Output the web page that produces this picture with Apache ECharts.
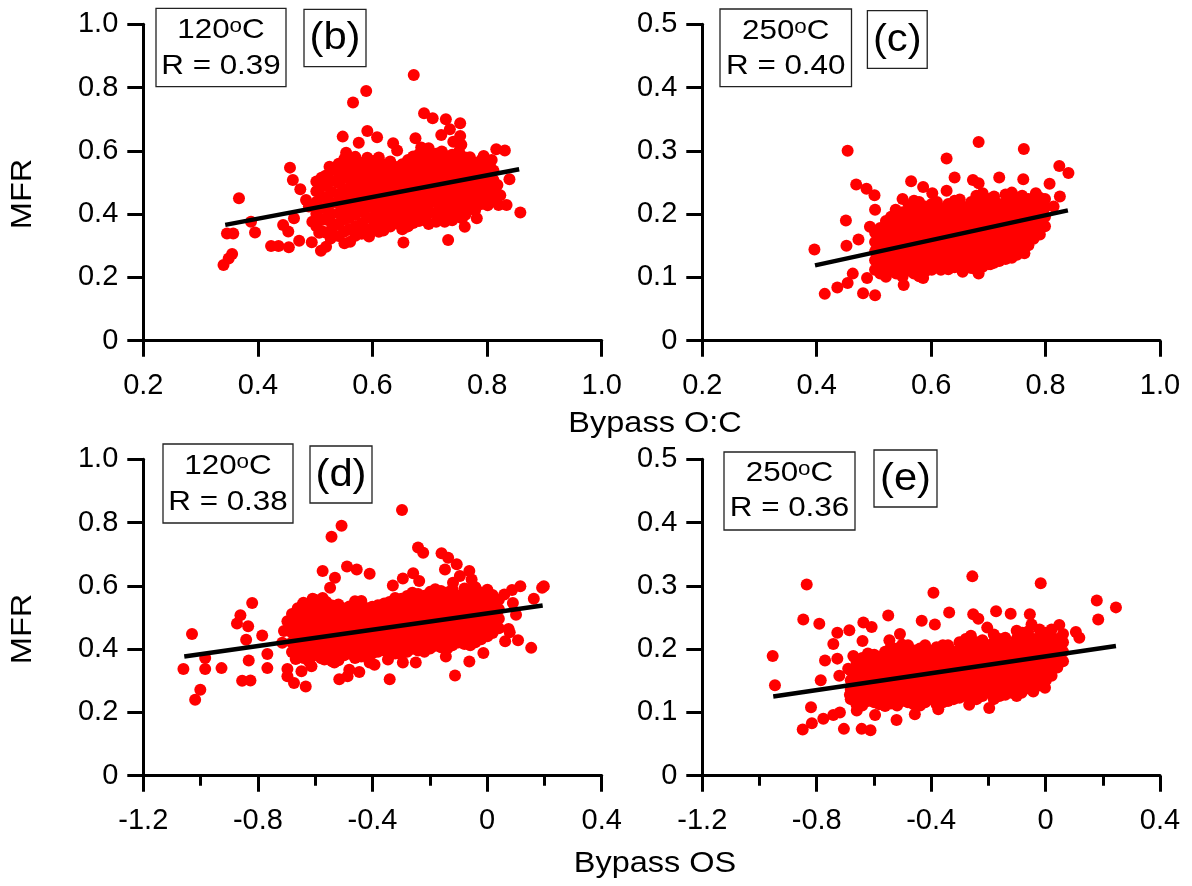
<!DOCTYPE html>
<html>
<head>
<meta charset="utf-8">
<script src="https://cdn.jsdelivr.net/npm/echarts@6.0.0/dist/echarts.min.js"></script>
<style>
html,body{margin:0;padding:0;background:#fff;}
#chart{width:1192px;height:886px;}
</style>
</head>
<body>
<div id="chart"></div>
<script>
// ---------- DATA ----------
// Panel (b): Bypass O:C vs MFR at 120ºC  -- scattered points [x, y]
const pointsB = [
[0.672,0.840],[0.589,0.789],[0.566,0.753],[0.690,0.719],[0.705,0.703],[0.728,0.700],[0.753,0.687],[0.735,0.668],[0.720,0.650],[0.753,0.647],[0.741,0.629],[0.755,0.619],[0.548,0.645],[0.591,0.663],[0.608,0.643],[0.576,0.626],[0.636,0.624],[0.643,0.601],[0.675,0.640],[0.685,0.611],[0.554,0.594],[0.816,0.605],[0.831,0.601],[0.794,0.584],[0.808,0.571],[0.770,0.580],[0.805,0.550],[0.456,0.547],[0.461,0.508],[0.474,0.479],[0.525,0.550],[0.367,0.450],[0.839,0.510],[0.818,0.492],[0.823,0.460],[0.820,0.429],[0.834,0.429],[0.858,0.405],[0.788,0.450],[0.782,0.387],[0.761,0.360],[0.732,0.318],[0.726,0.376],[0.756,0.387],[0.654,0.310],[0.659,0.360],[0.639,0.371],[0.627,0.400],[0.600,0.350],[0.594,0.329],[0.561,0.313],[0.551,0.308],[0.574,0.355],[0.527,0.323],[0.519,0.297],[0.510,0.284],[0.507,0.341],[0.494,0.311],[0.495,0.376],[0.472,0.316],[0.454,0.295],[0.436,0.299],[0.423,0.299],[0.453,0.345],[0.444,0.366],[0.463,0.387],[0.395,0.342],[0.388,0.376],[0.357,0.339],[0.346,0.339],[0.355,0.274],[0.349,0.260],[0.340,0.239],[0.484,0.445],[0.489,0.424]
];
// Panel (b) dense core, column by column: [x, [y values]]
const coreB = [
[0.502,[0.362,0.401,0.438,0.472,0.503]],
[0.511,[0.347,0.382,0.419,0.455,0.487,0.515]],
[0.518,[0.342,0.383,0.418,0.452,0.489,0.521]],
[0.529,[0.336,0.352,0.371,0.401,0.436,0.470,0.505,0.539]],
[0.541,[0.331,0.368,0.402,0.433,0.462,0.498,0.531,0.559]],
[0.551,[0.345,0.384,0.418,0.447,0.479,0.514,0.548,0.575]],
[0.559,[0.352,0.388,0.421,0.449,0.481,0.512,0.543,0.571]],
[0.570,[0.332,0.361,0.397,0.431,0.462,0.492,0.523,0.552,0.581]],
[0.581,[0.338,0.372,0.409,0.441,0.468,0.502,0.533,0.562]],
[0.591,[0.352,0.388,0.421,0.455,0.486,0.517,0.547,0.578]],
[0.602,[0.361,0.392,0.424,0.452,0.483,0.511,0.539,0.568]],
[0.611,[0.344,0.376,0.407,0.437,0.468,0.496,0.524,0.553,0.579]],
[0.619,[0.348,0.381,0.413,0.442,0.471,0.503,0.529,0.558]],
[0.631,[0.361,0.392,0.428,0.458,0.487,0.516,0.541,0.566]],
[0.641,[0.372,0.401,0.428,0.462,0.491,0.522,0.549]],
[0.652,[0.352,0.381,0.411,0.439,0.471,0.498,0.529,0.558]],
[0.662,[0.362,0.393,0.421,0.452,0.483,0.511,0.542,0.571]],
[0.671,[0.372,0.402,0.432,0.462,0.495,0.525,0.556,0.582]],
[0.681,[0.378,0.409,0.441,0.469,0.498,0.532,0.561,0.589]],
[0.690,[0.385,0.418,0.451,0.481,0.512,0.545,0.572,0.598]],
[0.698,[0.369,0.402,0.431,0.461,0.492,0.519,0.551,0.579,0.608]],
[0.711,[0.376,0.405,0.438,0.468,0.501,0.531,0.563,0.591]],
[0.721,[0.388,0.418,0.452,0.479,0.511,0.542,0.571,0.598]],
[0.729,[0.396,0.428,0.461,0.492,0.522,0.552,0.583]],
[0.739,[0.381,0.411,0.439,0.472,0.502,0.529,0.561,0.588]],
[0.751,[0.392,0.421,0.451,0.481,0.511,0.542,0.571,0.598]],
[0.762,[0.398,0.431,0.459,0.491,0.521,0.548,0.579]],
[0.771,[0.419,0.447,0.478,0.511,0.541,0.569]],
[0.779,[0.412,0.441,0.472,0.501,0.529,0.562]],
[0.790,[0.432,0.458,0.487,0.516,0.543,0.571]],
[0.801,[0.428,0.461,0.489,0.521,0.552]],
[0.811,[0.448,0.476,0.508,0.538]]
];
const fitB = [[0.343,0.366],[0.856,0.542]];

// Panel (c): Bypass O:C vs MFR at 250ºC
const pointsC = [
[0.683,0.314],[0.454,0.300],[0.762,0.303],[0.627,0.288],[0.824,0.276],[0.840,0.265],[0.469,0.247],[0.487,0.240],[0.501,0.230],[0.565,0.252],[0.641,0.258],[0.673,0.254],[0.683,0.249],[0.719,0.258],[0.761,0.255],[0.807,0.248],[0.825,0.228],[0.783,0.233],[0.502,0.207],[0.451,0.190],[0.493,0.180],[0.452,0.150],[0.473,0.160],[0.396,0.144],[0.463,0.106],[0.454,0.091],[0.436,0.084],[0.414,0.074],[0.481,0.075],[0.502,0.072],[0.488,0.099],[0.552,0.088],[0.586,0.099],[0.617,0.112],[0.655,0.109],[0.683,0.106],[0.704,0.121],[0.763,0.138],[0.771,0.170],[0.792,0.180],[0.814,0.212],[0.550,0.224],[0.586,0.243],[0.602,0.233],[0.627,0.237],[0.538,0.207],[0.523,0.175]
];
const coreC = [
[0.502,[0.112,0.127,0.141,0.156,0.171]],
[0.511,[0.106,0.120,0.134,0.149,0.163,0.178]],
[0.521,[0.101,0.116,0.132,0.146,0.161,0.176,0.189]],
[0.530,[0.111,0.125,0.140,0.154,0.169,0.183,0.196]],
[0.539,[0.106,0.121,0.136,0.151,0.166,0.181,0.196]],
[0.550,[0.101,0.114,0.129,0.143,0.158,0.173,0.188,0.203]],
[0.561,[0.111,0.126,0.141,0.156,0.171,0.186,0.201,0.214]],
[0.570,[0.106,0.119,0.134,0.149,0.164,0.179,0.194,0.208,0.221]],
[0.579,[0.102,0.117,0.131,0.146,0.161,0.176,0.191,0.206,0.219]],
[0.590,[0.110,0.124,0.139,0.154,0.169,0.184,0.198,0.212]],
[0.601,[0.112,0.126,0.141,0.157,0.171,0.186,0.201,0.216]],
[0.610,[0.117,0.131,0.146,0.161,0.176,0.191,0.205,0.219]],
[0.619,[0.121,0.136,0.151,0.166,0.181,0.196,0.209]],
[0.630,[0.113,0.128,0.143,0.158,0.173,0.188,0.203,0.216]],
[0.641,[0.116,0.131,0.146,0.161,0.176,0.191,0.206,0.221]],
[0.650,[0.118,0.133,0.148,0.163,0.178,0.193,0.208,0.223]],
[0.661,[0.121,0.136,0.151,0.166,0.181,0.196,0.211]],
[0.670,[0.115,0.129,0.144,0.159,0.174,0.189,0.204,0.219]],
[0.679,[0.112,0.126,0.141,0.156,0.171,0.186,0.201,0.216,0.229]],
[0.690,[0.117,0.131,0.146,0.161,0.176,0.191,0.206,0.221,0.233]],
[0.701,[0.121,0.136,0.151,0.166,0.181,0.196,0.211,0.224]],
[0.710,[0.123,0.138,0.153,0.168,0.183,0.198,0.213,0.228]],
[0.719,[0.126,0.141,0.156,0.171,0.186,0.201,0.216]],
[0.730,[0.129,0.144,0.159,0.174,0.189,0.204,0.218,0.231]],
[0.741,[0.131,0.146,0.161,0.176,0.191,0.206,0.219,0.234]],
[0.750,[0.136,0.151,0.166,0.181,0.196,0.211,0.226]],
[0.759,[0.141,0.156,0.171,0.186,0.201,0.216,0.229]],
[0.770,[0.151,0.166,0.181,0.196,0.211,0.224]],
[0.779,[0.161,0.176,0.191,0.206,0.219]],
[0.790,[0.168,0.183,0.198,0.212,0.226]],
[0.799,[0.181,0.196,0.211,0.224]]
];
const fitC = [[0.397,0.119],[0.839,0.206]];

// Panel (d): Bypass OS vs MFR at 120ºC
const pointsD = [
[-0.297,0.840],[-0.508,0.790],[-0.543,0.755],[-0.241,0.721],[-0.223,0.705],[-0.159,0.703],[-0.136,0.689],[-0.106,0.668],[-0.147,0.652],[-0.062,0.647],[-0.095,0.631],[-0.119,0.610],[-0.054,0.620],[-0.489,0.661],[-0.455,0.652],[-0.410,0.638],[-0.574,0.647],[-0.531,0.626],[-0.548,0.594],[-0.258,0.640],[-0.294,0.623],[-0.329,0.601],[-0.237,0.615],[0.198,0.599],[0.192,0.594],[0.116,0.599],[0.087,0.587],[0.060,0.573],[0.163,0.559],[0.090,0.546],[0.101,0.509],[0.075,0.464],[0.079,0.453],[0.063,0.425],[0.108,0.428],[0.154,0.404],[0.025,0.464],[-0.013,0.388],[-0.062,0.361],[-0.112,0.317],[-0.144,0.377],[-0.249,0.358],[-0.294,0.358],[-0.340,0.305],[-0.346,0.367],[-0.393,0.351],[-0.410,0.358],[-0.446,0.328],[-0.481,0.335],[-0.516,0.305],[-0.487,0.314],[-0.533,0.358],[-0.568,0.367],[-0.613,0.346],[-0.633,0.282],[-0.648,0.330],[-0.674,0.293],[-0.697,0.314],[-0.668,0.369],[-0.697,0.337],[-0.767,0.340],[-0.767,0.385],[-0.785,0.443],[-0.820,0.546],[-0.861,0.507],[-0.873,0.481],[-0.834,0.472],[-0.841,0.430],[-0.832,0.364],[-0.826,0.301],[-0.855,0.300],[-0.927,0.340],[-0.984,0.372],[-0.984,0.337],[-1.001,0.272],[-1.019,0.240],[-1.030,0.448],[-1.060,0.337],[-0.709,0.457],[-0.697,0.488],[-0.715,0.420],[-0.574,0.562],[-0.609,0.559],[-0.644,0.541]
];
const coreD = [
[-0.681,[0.391,0.421,0.452,0.481,0.511]],
[-0.661,[0.382,0.411,0.442,0.471,0.502,0.529]],
[-0.641,[0.372,0.402,0.431,0.462,0.491,0.521,0.547]],
[-0.622,[0.362,0.392,0.421,0.452,0.481,0.512,0.541]],
[-0.601,[0.381,0.411,0.442,0.471,0.502,0.531,0.556]],
[-0.579,[0.371,0.401,0.432,0.461,0.492,0.521,0.549]],
[-0.561,[0.371,0.401,0.432,0.461,0.492,0.521,0.549]],
[-0.541,[0.362,0.391,0.422,0.451,0.482,0.511,0.538]],
[-0.519,[0.365,0.396,0.427,0.456,0.487,0.516,0.541]],
[-0.499,[0.381,0.412,0.441,0.472,0.501,0.528]],
[-0.481,[0.386,0.417,0.446,0.477,0.506,0.535]],
[-0.461,[0.372,0.402,0.431,0.462,0.491,0.522,0.551]],
[-0.439,[0.377,0.407,0.436,0.467,0.496,0.527,0.552]],
[-0.419,[0.381,0.411,0.442,0.471,0.502,0.529]],
[-0.401,[0.386,0.416,0.447,0.476,0.507,0.534]],
[-0.381,[0.392,0.421,0.452,0.481,0.511,0.539]],
[-0.359,[0.396,0.426,0.457,0.486,0.516,0.544]],
[-0.341,[0.401,0.432,0.461,0.492,0.521,0.549]],
[-0.321,[0.386,0.416,0.447,0.476,0.506,0.536,0.562]],
[-0.299,[0.382,0.412,0.441,0.471,0.502,0.531,0.559]],
[-0.279,[0.392,0.422,0.451,0.481,0.511,0.541,0.568]],
[-0.261,[0.401,0.431,0.462,0.491,0.521,0.551,0.578]],
[-0.241,[0.396,0.426,0.457,0.486,0.516,0.546,0.574]],
[-0.219,[0.392,0.421,0.452,0.481,0.512,0.541,0.569]],
[-0.199,[0.402,0.431,0.462,0.491,0.521,0.551,0.581]],
[-0.181,[0.411,0.441,0.471,0.502,0.531,0.561,0.589]],
[-0.161,[0.406,0.436,0.466,0.497,0.526,0.556,0.584]],
[-0.139,[0.402,0.431,0.461,0.492,0.521,0.551,0.579]],
[-0.121,[0.412,0.441,0.471,0.501,0.532,0.561,0.589]],
[-0.101,[0.421,0.452,0.481,0.511,0.542,0.569]],
[-0.079,[0.416,0.446,0.477,0.506,0.536,0.566,0.592]],
[-0.059,[0.412,0.441,0.472,0.501,0.531,0.561,0.588]],
[-0.041,[0.422,0.451,0.482,0.511,0.541,0.571,0.596]],
[-0.021,[0.431,0.462,0.491,0.521,0.552,0.579]],
[0.001,[0.441,0.471,0.501,0.531,0.562,0.588]],
[0.019,[0.451,0.481,0.512,0.541,0.571]],
[0.041,[0.466,0.496,0.526,0.556]]
];
const fitD = [[-1.057,0.377],[0.194,0.538]];

// Panel (e): Bypass OS vs MFR at 250ºC
const pointsE = [
[-0.256,0.315],[-0.835,0.302],[-0.017,0.304],[-0.392,0.289],[0.179,0.277],[0.246,0.266],[0.184,0.247],[-0.847,0.247],[-0.791,0.240],[-0.550,0.253],[-0.337,0.258],[-0.253,0.255],[-0.173,0.260],[-0.122,0.256],[-0.055,0.255],[-0.235,0.248],[-0.433,0.245],[-0.387,0.239],[-0.637,0.242],[-0.608,0.235],[-0.686,0.230],[-0.728,0.226],[-0.742,0.208],[-0.509,0.224],[-0.546,0.214],[-0.640,0.213],[-0.204,0.234],[-0.049,0.239],[0.048,0.238],[0.106,0.227],[0.118,0.218],[0.048,0.181],[-0.002,0.139],[-0.954,0.189],[-0.946,0.143],[-0.771,0.182],[-0.728,0.185],[-0.786,0.151],[-0.721,0.158],[-0.690,0.169],[-0.820,0.108],[-0.849,0.073],[-0.817,0.083],[-0.777,0.090],[-0.742,0.096],[-0.719,0.100],[-0.705,0.074],[-0.643,0.074],[-0.612,0.072],[-0.660,0.103],[-0.596,0.096],[-0.561,0.110],[-0.521,0.088],[-0.457,0.097],[-0.375,0.105],[-0.267,0.112],[-0.197,0.107],[-0.084,0.131],[-0.043,0.133],[-0.672,0.189],[-0.684,0.128]
];
const coreE = [
[-0.681,[0.121,0.136,0.151,0.166]],
[-0.661,[0.113,0.128,0.143,0.158,0.173,0.181]],
[-0.641,[0.111,0.126,0.141,0.156,0.171,0.186]],
[-0.621,[0.118,0.133,0.148,0.163,0.178,0.193]],
[-0.599,[0.116,0.131,0.146,0.161,0.176,0.191]],
[-0.581,[0.113,0.128,0.143,0.158,0.173,0.188]],
[-0.561,[0.121,0.136,0.151,0.166,0.181,0.196]],
[-0.541,[0.114,0.129,0.144,0.159,0.174,0.189,0.203]],
[-0.519,[0.111,0.126,0.141,0.156,0.171,0.186,0.201]],
[-0.501,[0.118,0.133,0.148,0.163,0.178,0.193,0.207]],
[-0.481,[0.116,0.131,0.146,0.161,0.176,0.191,0.206]],
[-0.461,[0.113,0.123,0.138,0.153,0.168,0.183,0.198]],
[-0.439,[0.111,0.126,0.141,0.156,0.171,0.186,0.201]],
[-0.421,[0.116,0.131,0.146,0.161,0.176,0.191,0.206]],
[-0.401,[0.121,0.136,0.151,0.166,0.181,0.196]],
[-0.381,[0.113,0.128,0.143,0.158,0.173,0.188,0.203]],
[-0.359,[0.116,0.131,0.146,0.161,0.176,0.191,0.206]],
[-0.341,[0.118,0.133,0.148,0.163,0.178,0.193,0.206]],
[-0.321,[0.121,0.136,0.151,0.166,0.181,0.196]],
[-0.301,[0.123,0.138,0.153,0.168,0.183,0.198,0.211]],
[-0.279,[0.126,0.141,0.156,0.171,0.186,0.201,0.216]],
[-0.261,[0.118,0.133,0.148,0.163,0.178,0.193,0.208,0.221]],
[-0.241,[0.121,0.136,0.151,0.166,0.181,0.196,0.211]],
[-0.221,[0.126,0.141,0.156,0.171,0.186,0.201,0.214]],
[-0.199,[0.131,0.146,0.161,0.176,0.191,0.206]],
[-0.181,[0.121,0.136,0.151,0.166,0.181,0.196,0.211,0.223]],
[-0.161,[0.126,0.141,0.156,0.171,0.186,0.201,0.216]],
[-0.141,[0.128,0.143,0.158,0.173,0.188,0.203,0.218]],
[-0.119,[0.131,0.146,0.161,0.176,0.191,0.206]],
[-0.101,[0.126,0.141,0.156,0.171,0.186,0.201,0.216,0.229]],
[-0.081,[0.136,0.151,0.166,0.181,0.196,0.211,0.226]],
[-0.061,[0.138,0.153,0.168,0.183,0.198,0.213,0.228]],
[-0.041,[0.141,0.156,0.171,0.186,0.201,0.216]],
[-0.021,[0.143,0.158,0.173,0.188,0.203,0.218,0.231]],
[0.001,[0.151,0.166,0.181,0.196,0.211,0.226]],
[0.021,[0.158,0.173,0.188,0.203,0.218,0.231]],
[0.041,[0.171,0.186,0.201,0.216]],
[0.061,[0.181,0.196,0.211,0.224]]
];
const fitE = [[-0.952,0.125],[0.246,0.205]];

// Annotation texts
const tempLabels = ['120', '250', '120', '250'];
const rLabels = ['R = 0.39', 'R = 0.40', 'R = 0.38', 'R = 0.36'];
const panelLabels = ['(b)', '(c)', '(d)', '(e)'];
const yTitle = 'MFR';
const xTitles = ['Bypass O:C', 'Bypass OS'];

// ---------- BUILD ----------
function expand(points, core) {
  const out = points.slice();
  core.forEach(function (c) { c[1].forEach(function (y) { out.push([c[0], y]); }); });
  return out;
}
const FONT = '"Liberation Sans", Arial, Helvetica, sans-serif';
const fmt = function (v) { return Math.abs(v) < 1e-9 ? '0' : v.toFixed(1); };

const grids = [
  {left: 143.3, top: 24.3, width: 458.4, height: 316.4},
  {left: 702.3, top: 24.3, width: 457.7, height: 316.4},
  {left: 143.3, top: 459.3, width: 458.4, height: 316.4},
  {left: 702.3, top: 459.3, width: 457.7, height: 316.4}
].map(function (g) { return Object.assign({containLabel: false, outerBoundsMode: 'none'}, g); });

function axisBase(gridIndex) {
  return {
    type: 'value', gridIndex: gridIndex,
    axisLine: {show: true, onZero: false, lineStyle: {color: '#000', width: 3}},
    axisTick: {show: true, inside: false, length: 16, lineStyle: {color: '#000', width: 3}},
    splitLine: {show: false},
    minorSplitLine: {show: false},
    axisLabel: {show: true, color: '#000', fontSize: 29, fontFamily: FONT, formatter: fmt,
                showMinLabel: true, showMaxLabel: true, hideOverlap: false}
  };
}
const xAxes = [0, 1, 2, 3].map(function (i) {
  const a = axisBase(i);
  a.axisLabel.margin = 31;
  if (i < 2) { a.min = 0.2; a.max = 1.0; a.interval = 0.2; }
  else {
    a.min = -1.2; a.max = 0.4; a.interval = 0.4;
    a.minorTick = {show: true, splitNumber: 2, length: 10, lineStyle: {color: '#000', width: 3}};
  }
  return a;
});
const yAxes = [0, 1, 2, 3].map(function (i) {
  const a = axisBase(i);
  a.axisLabel.margin = 25;
  a.min = 0;
  if (i % 2 === 0) { a.max = 1.0; a.interval = 0.2; } else { a.max = 0.5; a.interval = 0.1; }
  return a;
});

const scatterSets = [expand(pointsB, coreB), expand(pointsC, coreC), expand(pointsD, coreD), expand(pointsE, coreE)];
const fits = [fitB, fitC, fitD, fitE];
const series = [];
scatterSets.forEach(function (d, i) {
  series.push({type: 'scatter', xAxisIndex: i, yAxisIndex: i, data: d, symbol: 'circle', symbolSize: 12,
    itemStyle: {color: '#ff0000', opacity: 1}, emphasis: {disabled: true}, z: 2, silent: true, large: false});
});
fits.forEach(function (d, i) {
  series.push({type: 'line', xAxisIndex: i, yAxisIndex: i, data: d, symbol: 'none', showSymbol: false,
    lineStyle: {color: '#000', width: 4.5}, emphasis: {disabled: true}, z: 5, silent: true});
});

// Annotation boxes (positions only; texts come from the arrays above)
const boxes = [
  {box: [156, 8.3, 130, 78.4], l1: 30.5, l2: 66, tag: [304, 9.3, 62, 57.4]},
  {box: [720, 9, 131.5, 77.6], l1: 31.6, l2: 66.6, tag: [867.4, 10.6, 59.8, 57.7]},
  {box: [163, 444, 130, 79], l1: 466.5, l2: 502.5, tag: [310, 446, 62, 57]},
  {box: [724, 452, 131, 78], l1: 473.3, l2: 508.3, tag: [874, 450, 63, 57]}
];
function txt(x, y, text, size, sx, rot, rich) {
  const st = {text: text, fontSize: size, fontFamily: FONT, fill: '#000',
              align: 'center', verticalAlign: 'middle', textAlign: 'center', textVerticalAlign: 'middle'};
  if (rich) st.rich = rich;
  return {type: 'text', x: x, y: y, scaleX: sx, rotation: rot || 0, style: st, z: 100, silent: true};
}
const graphic = [];
boxes.forEach(function (b, i) {
  const cx = b.box[0] + b.box[2] / 2;
  graphic.push({type: 'rect', shape: {x: b.box[0], y: b.box[1], width: b.box[2], height: b.box[3]},
    style: {fill: '#fff', stroke: '#222', lineWidth: 1.3}, z: 90, silent: true});
  graphic.push(txt(cx, b.l1, tempLabels[i] + '{s|o}C', 28, 1.12, 0,
    {s: {fontSize: 20, fontFamily: FONT, fill: '#000', verticalAlign: 'top'}}));
  graphic.push(txt(cx, b.l2, rLabels[i], 28, 1.12));
  graphic.push({type: 'rect', shape: {x: b.tag[0], y: b.tag[1], width: b.tag[2], height: b.tag[3]},
    style: {fill: '#fff', stroke: '#222', lineWidth: 1.3}, z: 90, silent: true});
  graphic.push(txt(b.tag[0] + b.tag[2] / 2, b.tag[1] + b.tag[3] / 2 + 1, panelLabels[i], 38, 1.1));
});
graphic.push(txt(23, 194, yTitle, 29, 1.12, Math.PI / 2));
graphic.push(txt(23, 629, yTitle, 29, 1.12, Math.PI / 2));
graphic.push(txt(655, 424, xTitles[0], 29, 1.12));
graphic.push(txt(655, 864, xTitles[1], 29, 1.12));

const chart = echarts.init(document.getElementById('chart'), null, {renderer: 'canvas'});
chart.setOption({
  backgroundColor: '#fff',
  animation: false,
  grid: grids,
  xAxis: xAxes,
  yAxis: yAxes,
  series: series,
  graphic: graphic
});
</script>
</body>
</html>
